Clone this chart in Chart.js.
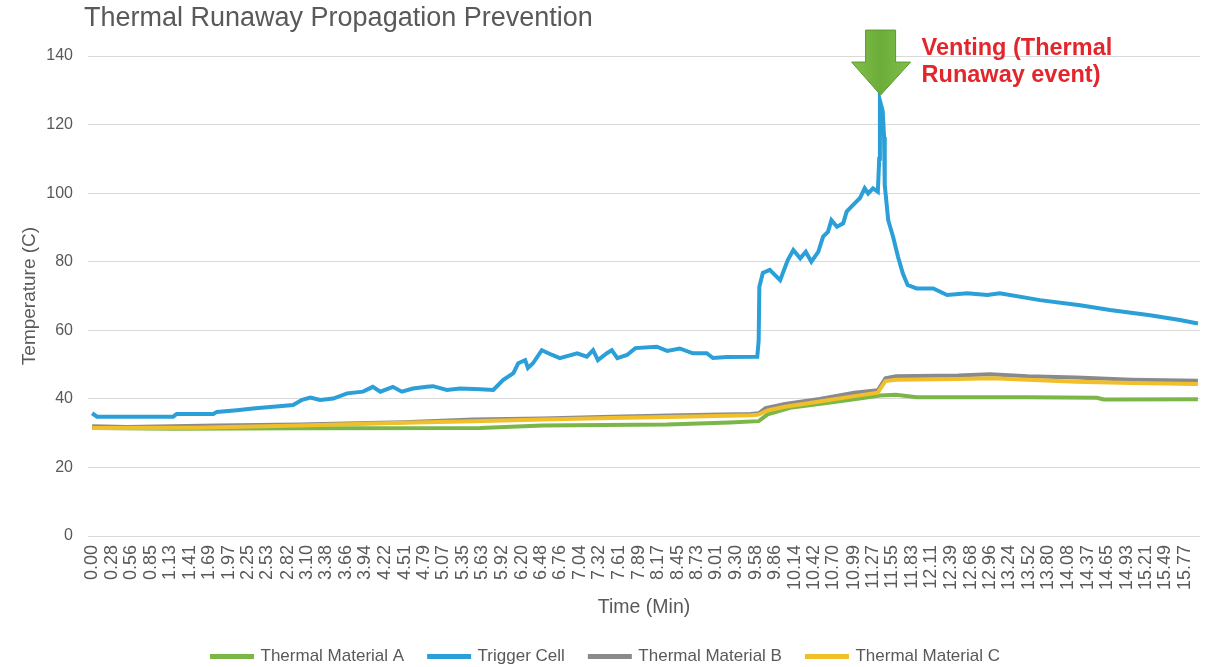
<!DOCTYPE html>
<html>
<head>
<meta charset="utf-8">
<script src="https://cdn.jsdelivr.net/npm/chart.js@4/dist/chart.umd.min.js"></script>
<style>
  html, body { margin: 0; padding: 0; background: #fff; }
  #wrap { position: relative; width: 1207px; height: 667px; }
  #title {
    position: absolute; left: 84px; top: 2px;
    font: 27px "Liberation Sans", Arial, sans-serif; line-height: 30px;
    color: #595959; white-space: nowrap;
  }
</style>
</head>
<body>
<div id="wrap">
  <canvas id="chart" width="1207" height="667"></canvas>
  <div id="title">Thermal Runaway Propagation Prevention</div>
</div>
<script>
// x axis tick labels (minutes)
const tickLabels = ['0.00','0.28','0.56','0.85','1.13','1.41','1.69','1.97','2.25','2.53',
  '2.82','3.10','3.38','3.66','3.94','4.22','4.51','4.79','5.07','5.35',
  '5.63','5.92','6.20','6.48','6.76','7.04','7.32','7.61','7.89','8.17',
  '8.45','8.73','9.01','9.30','9.58','9.86','10.14','10.42','10.70','10.99',
  '11.27','11.55','11.83','12.11','12.39','12.68','12.96','13.24','13.52','13.80',
  '14.08','14.37','14.65','14.93','15.21','15.49','15.77'];

// Trigger Cell
const triggerTime = [0, 0.07, 1.17, 1.22, 1.75, 1.80, 2.09, 2.32, 2.61, 2.90,
  3.03, 3.15, 3.29, 3.48, 3.68, 3.91, 4.05, 4.16, 4.34, 4.47,
  4.63, 4.83, 4.92, 5.12, 5.31, 5.60, 5.79, 5.93, 6.08, 6.15,
  6.25, 6.29, 6.36, 6.49, 6.64, 6.75, 7.00, 7.14, 7.23, 7.30,
  7.43, 7.50, 7.58, 7.72, 7.84, 8.15, 8.30, 8.48, 8.67, 8.87,
  8.96, 9.16, 9.60, 9.62, 9.63, 9.68, 9.78, 9.93, 10.04, 10.12,
  10.22, 10.30, 10.38, 10.48, 10.55, 10.62, 10.67, 10.75, 10.84, 10.89,
  10.98, 11.08, 11.15, 11.20, 11.27, 11.34, 11.36, 11.37, 11.41, 11.43,
  11.44, 11.49, 11.56, 11.63, 11.70, 11.77, 11.90, 12.14, 12.34, 12.63,
  12.92, 13.10, 13.68, 14.26, 14.69, 15.27, 15.70, 15.96];
const triggerTemp = [35.8, 34.8, 34.8, 35.6, 35.6, 36.2, 36.7, 37.2, 37.7, 38.2,
  39.7, 40.4, 39.7, 40.1, 41.6, 42.1, 43.5, 42.1, 43.5, 42.1,
  43.0, 43.5, 43.7, 42.6, 43.0, 42.8, 42.6, 45.5, 47.5, 50.4,
  51.3, 49.0, 50.3, 54.2, 52.8, 51.9, 53.3, 52.3, 54.2, 51.3,
  53.3, 54.2, 51.9, 52.8, 54.8, 55.2, 54.0, 54.7, 53.3, 53.3,
  51.9, 52.2, 52.3, 57.0, 72.7, 76.7, 77.6, 74.6, 80.5, 83.4,
  81.0, 82.9, 80.0, 82.9, 87.3, 88.7, 92.1, 90.2, 91.2, 94.6,
  96.5, 98.5, 101.4, 99.9, 101.4, 100.4, 110, 127, 124, 116.4,
  102.3, 92.1, 87.3, 81.5, 76.6, 73.2, 72.2, 72.2, 70.3, 70.8,
  70.3, 70.8, 68.8, 67.3, 65.9, 64.4, 63.0, 62.0];

// Thermal Material A
const matATime = [0, 1.2, 3.0, 5.6, 6.5, 8.3, 9.2, 9.62, 9.75, 10.1, 10.6, 11.1, 11.37, 11.6, 11.9, 13.5, 14.5, 14.6, 15.96];
const matATemp = [31.5, 31.3, 31.4, 31.5, 32.2, 32.5, 33.1, 33.5, 35.5, 37.5, 38.8, 40.2, 41.0, 41.2, 40.5, 40.5, 40.3, 39.8, 39.9];

// Thermal Material B
const matBTime = [0, 0.5, 1.8, 3.0, 4.5, 5.5, 6.5, 7.5, 8.5, 9.5, 9.62, 9.72, 10.0, 10.5, 11.0, 11.34, 11.45, 11.6, 12.5, 12.96, 13.5, 14.2, 15.0, 15.96];
const matBTemp = [32.0, 31.8, 32.2, 32.5, 33.2, 34.0, 34.3, 34.8, 35.2, 35.6, 35.8, 37.3, 38.5, 40.0, 41.8, 42.5, 46.0, 46.6, 46.8, 47.2, 46.6, 46.2, 45.6, 45.3];

// Thermal Material C
const matCTime = [0, 1.5, 3.0, 4.5, 5.5, 6.5, 7.5, 8.5, 9.5, 9.62, 9.75, 10.0, 10.5, 11.0, 11.34, 11.45, 11.6, 12.5, 13.0, 13.5, 14.2, 15.0, 15.96];
const matCTemp = [31.5, 31.6, 32.2, 33.0, 33.5, 34.0, 34.4, 34.8, 35.2, 35.4, 36.6, 37.7, 39.2, 40.8, 41.8, 45.2, 45.6, 45.8, 46.0, 45.6, 45.0, 44.6, 44.3];

// annotation
const ventTime = 11.38;
const ventArrowValue = 128.6;
const ventLabel = ['Venting (Thermal', 'Runaway event)'];

function pts(t, v) { return t.map((x, i) => ({ x: x, y: v[i] })); }

const FONT = '"Liberation Sans", Arial, sans-serif';
const TXT = '#595959';

const ventPlugin = {
  id: 'vent',
  afterDatasetsDraw(chart) {
    const ctx = chart.ctx;
    const ax = chart.scales.x.getPixelForValue(ventTime);
    const ay = chart.scales.y.getPixelForValue(ventArrowValue);
    ctx.save();
    ctx.beginPath();
    ctx.moveTo(ax - 15, ay - 65);
    ctx.lineTo(ax + 15, ay - 65);
    ctx.lineTo(ax + 15, ay - 33);
    ctx.lineTo(ax + 30, ay - 33);
    ctx.lineTo(ax, ay);
    ctx.lineTo(ax - 29, ay - 33);
    ctx.lineTo(ax - 15, ay - 33);
    ctx.closePath();
    const g = ctx.createLinearGradient(ax - 29, 0, ax + 30, 0);
    g.addColorStop(0, '#7fbf4a');
    g.addColorStop(0.5, '#6cac38');
    g.addColorStop(1, '#7fbf4a');
    ctx.fillStyle = g;
    ctx.fill();
    ctx.strokeStyle = '#5b9a2f';
    ctx.lineWidth = 1;
    ctx.stroke();
    ctx.fillStyle = '#e3262b';
    ctx.font = 'bold 23.5px ' + FONT;
    ctx.textBaseline = 'middle';
    ctx.textAlign = 'left';
    ctx.fillText(ventLabel[0], ax + 41, ay - 47);
    ctx.fillText(ventLabel[1], ax + 41, ay - 20);
    ctx.restore();
  }
};

const ds = (label, t, v, color, order) => ({
  label: label,
  data: pts(t, v),
  borderColor: color,
  backgroundColor: color,
  borderWidth: 4,
  pointRadius: 0,
  tension: 0,
  order: order
});

new Chart(document.getElementById('chart'), {
  type: 'line',
  data: {
    datasets: [
      ds('Thermal Material A', matATime, matATemp, '#7ab648', 3),
      ds('Trigger Cell', triggerTime, triggerTemp, '#2a9fd8', 2),
      ds('Thermal Material B', matBTime, matBTemp, '#8a8a8a', 1),
      ds('Thermal Material C', matCTime, matCTemp, '#f0bf2a', 0)
    ]
  },
  options: {
    responsive: false,
    animation: false,
    layout: { padding: { left: 12, right: 7, top: 56, bottom: -8 } },
    plugins: {
      title: { display: false },
      tooltip: { enabled: false },
      legend: {
        position: 'bottom',
        labels: {
          boxWidth: 40,
          boxHeight: 1,
          padding: 25,
          color: TXT,
          font: { family: FONT, size: 17 },
          sort: (a, b) => a.datasetIndex - b.datasetIndex
        }
      }
    },
    scales: {
      x: {
        type: 'linear',
        min: -0.06,
        max: 15.99,
        afterBuildTicks: (scale) => {
          scale.ticks = tickLabels.map(v => ({ value: parseFloat(v) }));
        },
        afterFit: (scale) => {
          scale.height = 87;
          scale.paddingRight = 0;
          scale.paddingLeft = 0;
        },
        grid: { display: false },
        border: { display: false },
        ticks: {
          autoSkip: false,
          minRotation: 90,
          maxRotation: 90,
          padding: 1,
          color: TXT,
          font: { family: FONT, size: 18 },
          callback: (value) => Number(value).toFixed(2)
        },
        title: {
          display: true,
          text: 'Time (Min)',
          color: TXT,
          font: { family: FONT, size: 19.5 },
          padding: { top: 0, bottom: 4 }
        }
      },
      y: {
        min: 0,
        max: 140,
        afterFit: (scale) => { scale.width = 76; },
        grid: { color: '#d9d9d9', lineWidth: 1, drawTicks: false },
        border: { display: false },
        ticks: {
          stepSize: 20,
          padding: 15,
          color: TXT,
          font: { family: FONT, size: 16 }
        },
        title: {
          display: true,
          text: 'Temperature (C)',
          color: TXT,
          font: { family: FONT, size: 19 },
          padding: { top: 6, bottom: 0 }
        }
      }
    }
  },
  plugins: [ventPlugin]
});
</script>
</body>
</html>
